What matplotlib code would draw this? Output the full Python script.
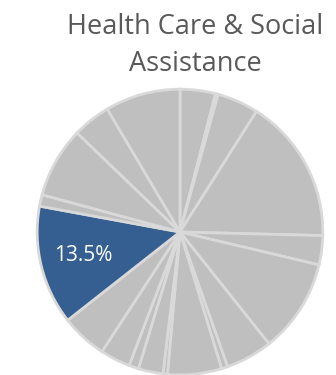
import matplotlib
matplotlib.use("Agg")
import matplotlib.pyplot as plt

# Data (clockwise from 12 o'clock)
categories = [f"Group {i+1}" for i in range(19)]
shares = [4.0, 0.3, 4.7, 16.4, 3.3, 10.6, 5.3, 0.7, 6.1, 0.5, 2.8, 1.1, 3.4, 5.2,
          13.5, 1.3, 8.0, 4.3, 8.5]
highlight_index = 14
highlight_label = "13.5%"
title_lines = ["Health Care & Social", "Assistance"]

GRAY = "#BFBFBF"
EDGE = "#D9D9D9"
BLUE = "#365F91"

fig = plt.figure(figsize=(3.36, 3.75), dpi=100)
W, H = 336, 375
cx, cy, r = 180, 232, 145
ax = fig.add_axes([(cx - r) / W, (H - cy - r) / H, 2 * r / W, 2 * r / H])

colors = [BLUE if i == highlight_index else GRAY for i in range(len(shares))]
labels = [highlight_label if i == highlight_index else "" for i in range(len(shares))]
wedges, texts = ax.pie(shares, colors=colors, labels=labels, startangle=90,
                       counterclock=False, radius=0.985, labeldistance=0.70,
                       wedgeprops=dict(edgecolor=EDGE, linewidth=2.0))
ax.set_xlim(-1, 1)
ax.set_ylim(-1, 1)
ax.set_aspect("equal")
ax.axis("off")
for t in texts:
    t.set_color("white")
    t.set_fontsize(15)
    t.set_family(["Open Sans", "DejaVu Sans"])
    t.set_ha("center")
    t.set_va("center")

fig.text(195 / W, 1 - 33.5 / H, title_lines[0], ha="center", va="baseline",
         fontsize=19.5, color="#595959", family=["Open Sans", "DejaVu Sans"])
fig.text(195 / W, 1 - 71 / H, title_lines[1], ha="center", va="baseline",
         fontsize=19.5, color="#595959", family=["Open Sans", "DejaVu Sans"])

fig.savefig("out.png", dpi=100)
